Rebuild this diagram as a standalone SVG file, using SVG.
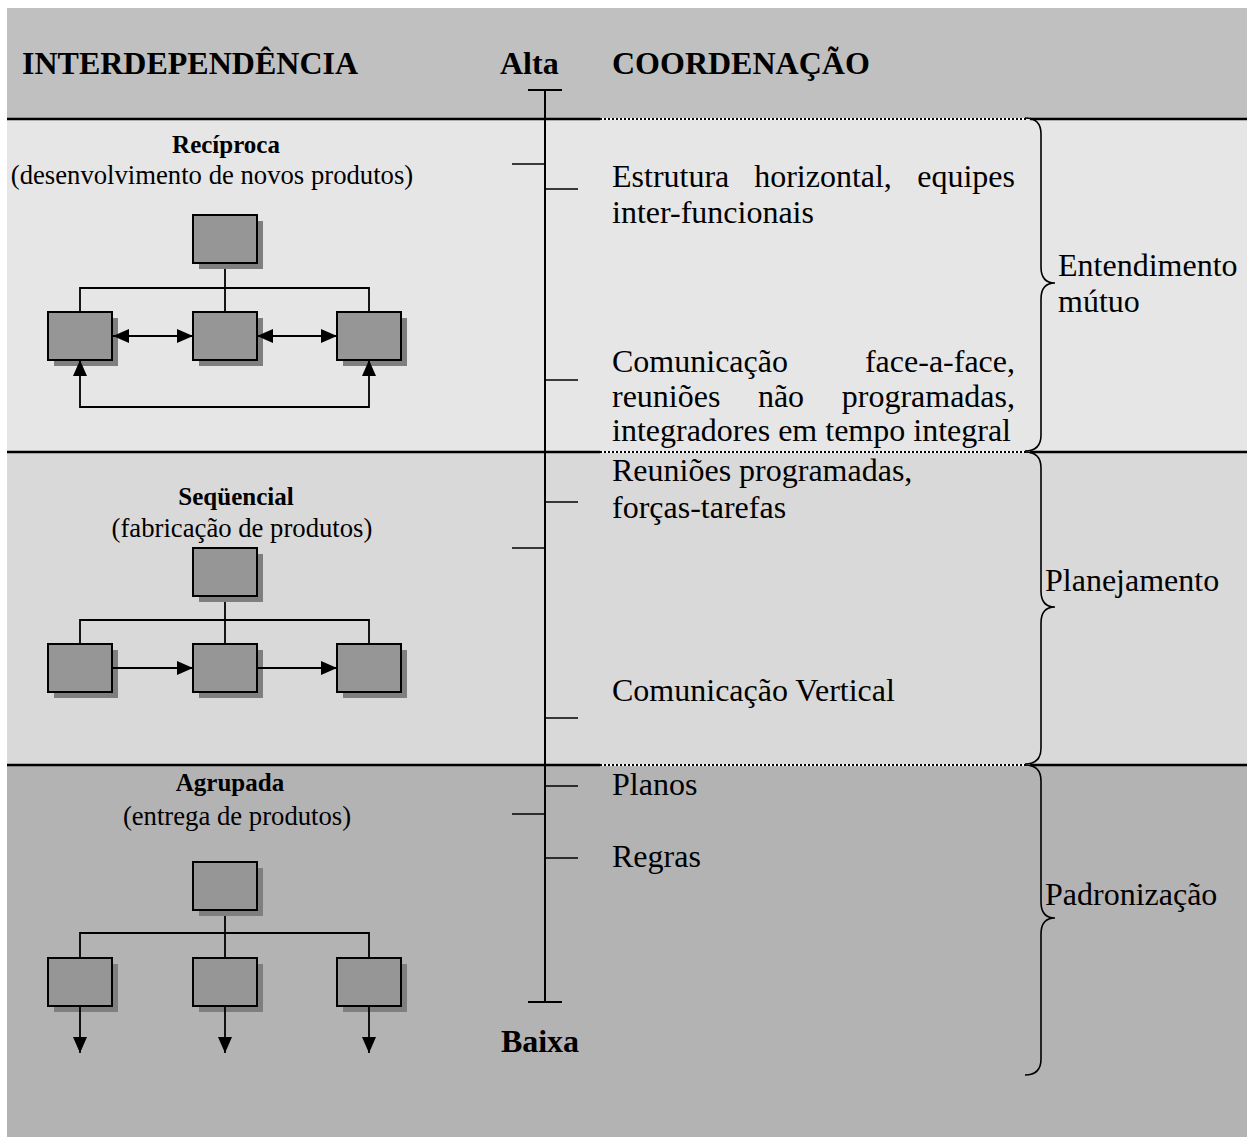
<svg xmlns="http://www.w3.org/2000/svg" width="1251" height="1137" viewBox="0 0 1251 1137">
  <style>
    .serif { font-family: "Liberation Serif", "Times New Roman", serif; fill: #000; }
    .head { font-size: 32px; font-weight: bold; }
    .body { font-size: 32px; }
    .title { font-size: 25px; font-weight: bold; }
    .sub { font-size: 26.7px; }
    .box { fill: #969696; stroke: #000; stroke-width: 2; }
    .shadow { fill: #7f7f7f; }
    .wire { fill: none; stroke: #000; stroke-width: 1.8; }
    .sep { stroke: #000; stroke-width: 2.5; }
    .dots { stroke: #000; stroke-width: 2; stroke-dasharray: 2 2; }
    .tick { stroke: #000; stroke-width: 1.6; }
    .brace { fill: none; stroke: #000; stroke-width: 1.6; }
  </style>
  <defs>
    <marker id="head" viewBox="0 0 16 14" refX="16" refY="7" markerWidth="16" markerHeight="14" markerUnits="userSpaceOnUse" orient="auto-start-reverse">
      <path d="M0,0 L16,7 L0,14 Z" fill="#000"/>
    </marker>
    <g id="blk">
      <rect class="shadow" x="6" y="6" width="64" height="48"/>
      <rect class="box" x="0" y="0" width="64" height="48"/>
    </g>
  </defs>

  <!-- bands -->
  <rect x="0" y="0" width="1251" height="1137" fill="#fff"/>
  <rect x="7" y="8" width="1240" height="111" fill="#c0c0c0"/>
  <rect x="7" y="119" width="1240" height="333" fill="#e6e6e6"/>
  <rect x="7" y="452" width="1240" height="313" fill="#d9d9d9"/>
  <rect x="7" y="765" width="1240" height="372" fill="#b3b3b3"/>

  <!-- band separators -->
  <g id="separators">
    <line class="sep" x1="7" y1="119" x2="600" y2="119"/>
    <line x1="600" y1="119" x2="1026" y2="119" stroke="#fff" stroke-width="2"/>
    <line class="dots" x1="600" y1="119" x2="1026" y2="119"/>
    <line class="sep" x1="1030" y1="119" x2="1247" y2="119"/>
    <line class="sep" x1="7" y1="452" x2="600" y2="452"/>
    <line x1="600" y1="452" x2="1026" y2="452" stroke="#fff" stroke-width="2"/>
    <line class="dots" x1="600" y1="452" x2="1026" y2="452"/>
    <line class="sep" x1="1030" y1="452" x2="1247" y2="452"/>
    <line class="sep" x1="7" y1="765" x2="600" y2="765"/>
    <line x1="600" y1="765" x2="1026" y2="765" stroke="#fff" stroke-width="2"/>
    <line class="dots" x1="600" y1="765" x2="1026" y2="765"/>
    <line class="sep" x1="1030" y1="765" x2="1247" y2="765"/>
  </g>

  <!-- headings -->
  <g id="headings" class="serif head">
    <text x="22" y="74">INTERDEPENDÊNCIA</text>
    <text x="500" y="74">Alta</text>
    <text x="612" y="74">COORDENAÇÃO</text>
    <text x="540" y="1052" text-anchor="middle">Baixa</text>
  </g>

  <!-- scale axis with ticks -->
  <g id="axis">
    <line x1="545" y1="90" x2="545" y2="1002" stroke="#000" stroke-width="2"/>
    <line x1="528" y1="90" x2="562" y2="90" stroke="#000" stroke-width="2"/>
    <line x1="528" y1="1002" x2="562" y2="1002" stroke="#000" stroke-width="2"/>
    <line class="tick" x1="512" y1="164" x2="545" y2="164"/>
    <line class="tick" x1="512" y1="548" x2="545" y2="548"/>
    <line class="tick" x1="512" y1="814" x2="545" y2="814"/>
    <line class="tick" x1="545" y1="189" x2="578" y2="189"/>
    <line class="tick" x1="545" y1="380" x2="578" y2="380"/>
    <line class="tick" x1="545" y1="502" x2="578" y2="502"/>
    <line class="tick" x1="545" y1="718" x2="578" y2="718"/>
    <line class="tick" x1="545" y1="786" x2="578" y2="786"/>
    <line class="tick" x1="545" y1="858" x2="578" y2="858"/>
  </g>

  <!-- coordination mechanisms -->
  <g id="mechanisms" class="serif body">
    <text x="612" y="187">Estrutura</text>
    <text x="823" y="187" text-anchor="middle">horizontal,</text>
    <text x="1015" y="187" text-anchor="end">equipes</text>
    <text x="612" y="223">inter-funcionais</text>
    <text x="612" y="372">Comunicação</text>
    <text x="1015" y="372" text-anchor="end">face-a-face,</text>
    <text x="612" y="407">reuniões</text>
    <text x="781" y="407" text-anchor="middle">não</text>
    <text x="1015" y="407" text-anchor="end">programadas,</text>
    <text x="612" y="441">integradores em tempo integral</text>
    <text x="612" y="481">Reuniões programadas,</text>
    <text x="612" y="518">forças-tarefas</text>
    <text x="612" y="701">Comunicação Vertical</text>
    <text x="612" y="795">Planos</text>
    <text x="612" y="867">Regras</text>
  </g>

  <!-- braces and their labels -->
  <g id="braces">
    <path class="brace" d="M1025,118 Q1041,118 1041,134 L1041,267 Q1041,283 1055,283 Q1041,283 1041,299 L1041,435 Q1041,451 1025,451"/>
    <path class="brace" d="M1025,452 Q1041,452 1041,468 L1041,591 Q1041,607 1055,607 Q1041,607 1041,623 L1041,748 Q1041,764 1025,764"/>
    <path class="brace" d="M1025,765 Q1041,765 1041,781 L1041,902 Q1041,918 1055,918 Q1041,918 1041,934 L1041,1059 Q1041,1075 1025,1075"/>
  </g>
  <g id="brace-labels" class="serif body">
    <text x="1058" y="276">Entendimento</text>
    <text x="1058" y="312">mútuo</text>
    <text x="1045" y="591">Planejamento</text>
    <text x="1045" y="905">Padronização</text>
  </g>

  <!-- reciprocal interdependence -->
  <g id="reciproca">
    <text class="serif title" x="226" y="153" text-anchor="middle">Recíproca</text>
    <text class="serif sub" x="212" y="184" text-anchor="middle">(desenvolvimento de novos produtos)</text>
    <path class="wire" d="M225,263 V312 M80,312 V288 H369 V312"/>
    <use href="#blk" x="193" y="215"/>
    <use href="#blk" x="48" y="312"/>
    <use href="#blk" x="193" y="312"/>
    <use href="#blk" x="337" y="312"/>
    <line class="wire" x1="113" y1="336" x2="193" y2="336" marker-start="url(#head)" marker-end="url(#head)"/>
    <line class="wire" x1="257" y1="336" x2="337" y2="336" marker-start="url(#head)" marker-end="url(#head)"/>
    <path class="wire" d="M80,360 V407 H369 V360" marker-start="url(#head)" marker-end="url(#head)"/>
  </g>

  <!-- sequential interdependence -->
  <g id="sequencial">
    <text class="serif title" x="236" y="505" text-anchor="middle">Seqüencial</text>
    <text class="serif sub" x="242" y="537" text-anchor="middle">(fabricação de produtos)</text>
    <path class="wire" d="M225,596 V644 M80,644 V620 H369 V644"/>
    <use href="#blk" x="193" y="548"/>
    <use href="#blk" x="48" y="644"/>
    <use href="#blk" x="193" y="644"/>
    <use href="#blk" x="337" y="644"/>
    <line class="wire" x1="113" y1="668" x2="193" y2="668" marker-end="url(#head)"/>
    <line class="wire" x1="257" y1="668" x2="337" y2="668" marker-end="url(#head)"/>
  </g>

  <!-- pooled interdependence -->
  <g id="agrupada">
    <text class="serif title" x="230" y="791" text-anchor="middle">Agrupada</text>
    <text class="serif sub" x="237" y="825" text-anchor="middle">(entrega de produtos)</text>
    <path class="wire" d="M225,910 V958 M80,958 V933 H369 V958"/>
    <use href="#blk" x="193" y="862"/>
    <use href="#blk" x="48" y="958"/>
    <use href="#blk" x="193" y="958"/>
    <use href="#blk" x="337" y="958"/>
    <line class="wire" x1="80" y1="1006" x2="80" y2="1053" marker-end="url(#head)"/>
    <line class="wire" x1="225" y1="1006" x2="225" y2="1053" marker-end="url(#head)"/>
    <line class="wire" x1="369" y1="1006" x2="369" y2="1053" marker-end="url(#head)"/>
  </g>
</svg>
